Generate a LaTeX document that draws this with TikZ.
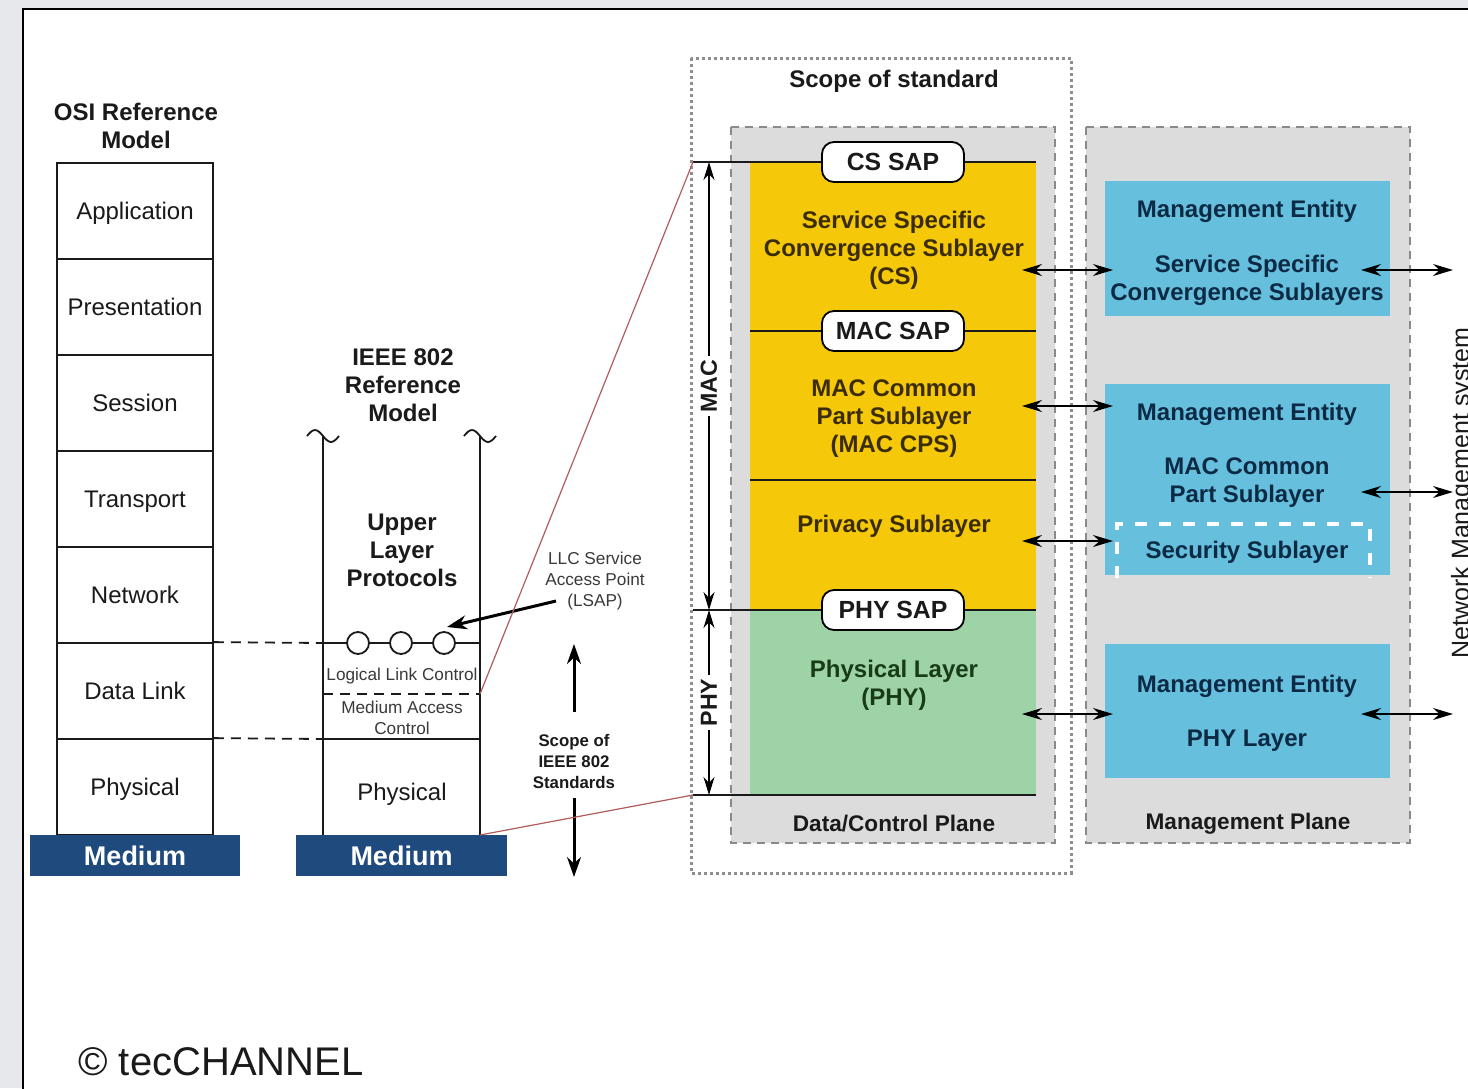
\documentclass[tikz,border=0pt]{standalone}
\usepackage{fontspec}
\setmainfont{Liberation Sans}
\usepackage{xcolor}
\usepackage{tikz}
\usetikzlibrary{arrows.meta}
\definecolor{page}{HTML}{E6E8EB}
\definecolor{txt}{HTML}{1A1A1A}
\definecolor{muted}{HTML}{3A3A3A}
\definecolor{mediumblue}{HTML}{1F4A7E}
\definecolor{macyellow}{HTML}{F5C90A}
\definecolor{phygreen}{HTML}{9ED3A6}
\definecolor{planebg}{HTML}{DCDCDC}
\definecolor{planeline}{HTML}{8A8A8A}
\definecolor{mgmtblue}{HTML}{65BFDD}
\definecolor{mgmttext}{HTML}{0D2A44}
\definecolor{subtext}{HTML}{3A2C05}
\definecolor{phytext}{HTML}{173C17}
\definecolor{zoomred}{HTML}{B25B5B}
\definecolor{scopedots}{HTML}{8E8E8E}
\tikzset{
  rule/.style={draw=txt, line width=0.9pt},
  dashrule/.style={rule, dash pattern=on 5pt off 3.5pt},
  zoomline/.style={draw=zoomred, line width=0.6pt},
  bigarrow/.style={draw=black, line width=1.5pt, -{Stealth[length=10pt,width=7pt]}},
  link/.style={draw=black, line width=0.8pt, {Stealth[length=10pt,width=6pt]}-{Stealth[length=10pt,width=6pt]}},
  dimline/.style={draw=black, line width=0.9pt, {Stealth[length=9pt,width=5.5pt]}-{Stealth[length=9pt,width=5.5pt]}},
  layer/.style={draw=txt, line width=0.9pt, minimum width=78pt, minimum height=48pt,
    text depth=0pt, font=\fontsize{12}{14}\selectfont, text=txt},
  plain/.style={font=\fontsize{12}{14}\selectfont, text=txt, yshift=-1pt},
  medium/.style={fill=mediumblue, text=white, minimum height=20.5pt, inner sep=0pt,
    font=\fontsize{13.5}{16}\selectfont\bfseries},
  heading/.style={font=\fontsize{12}{14}\selectfont\bfseries, align=center, text=txt, yshift=-1pt},
  note/.style={font=\fontsize{8.6}{10.5}\selectfont, align=center, text=muted, inner sep=1pt, yshift=-0.8pt},
  boldnote/.style={font=\fontsize{8.4}{10.5}\selectfont\bfseries, align=center, text=txt, yshift=-0.8pt},
  sapdot/.style={circle, draw=txt, fill=white, line width=0.9pt, minimum size=11pt, inner sep=0pt},
  scopebox/.style={draw=scopedots, line width=1.5pt, dash pattern=on 1.5pt off 1.5pt},
  plane/.style={draw=planeline, fill=planebg, line width=0.6pt, dash pattern=on 4pt off 3pt},
  planelabel/.style={font=\fontsize{11.3}{13}\selectfont\bfseries, text=txt, yshift=-1pt},
  sap/.style={draw=black, fill=white, line width=0.9pt, rounded corners=6pt,
    minimum width=71pt, minimum height=20pt, inner sep=0pt,
    font=\fontsize{12.4}{14}\selectfont\bfseries, text=txt},
  sublayer/.style={font=\fontsize{12}{14}\selectfont\bfseries, align=center, text=subtext, yshift=-1pt},
  dimlabel/.style={fill=white, rotate=90, inner sep=2pt,
    font=\fontsize{11.6}{13}\selectfont\bfseries, text=txt},
  mgmt/.style={fill=mgmtblue, minimum width=142.5pt, inner sep=0pt},
  mgmtlabel/.style={font=\fontsize{12}{14}\selectfont\bfseries, align=center, text=mgmttext, yshift=-1pt},
  secbox/.style={draw=white, line width=2pt, dash pattern=on 6pt off 6pt}
}

\begin{document}
\begin{tikzpicture}[x=0.5pt, y=-0.5pt]
  \useasboundingbox (0,0) rectangle (1468,1088);
  \clip (0,0) rectangle (1468,1088);
  \fill[page] (0,0) rectangle (1468,1088);
  \draw[fill=white, line width=1.2pt] (23,9) rectangle (1520,1130);

  % OSI stack
  \node[heading] (osititle) at (136,124) {OSI Reference\\Model};
  \node[layer] (app) at (135,211) {Application};
  \node[layer] (pres) at (135,307) {Presentation};
  \node[layer] (sess) at (135,403) {Session};
  \node[layer] (trans) at (135,499) {Transport};
  \node[layer] (net) at (135,595) {Network};
  \node[layer] (dlink) at (135,691) {Data Link};
  \node[layer] (phys) at (135,787) {Physical};
  \node[medium, minimum width=105pt] (osimed) at (135,855.5) {Medium};

  % IEEE 802 stack
  \node[heading] (ieeetitle) at (403,383) {IEEE 802\\Reference\\Model};
  \coordinate (ieeeTL) at (323,436);
  \coordinate (ieeeTR) at (480,436);
  \coordinate (ieeeBL) at (323,835);
  \coordinate (ieeeBR) at (480,835);
  \draw[rule] (ieeeTL) -- (ieeeBL);
  \draw[rule] (ieeeTR) -- (ieeeBR);
  \draw[rule] ([xshift=-8pt]ieeeTL) sin ++(8,-6) cos ++(8,6) sin ++(8,6) cos ++(8,-6);
  \draw[rule] ([xshift=-8pt]ieeeTR) sin ++(8,-6) cos ++(8,6) sin ++(8,6) cos ++(8,-6);
  \node[heading] (ulp) at (402,548) {Upper\\Layer\\Protocols};

  \coordinate (llcL) at (323,643);
  \coordinate (llcR) at (480,643);
  \coordinate (macL) at (323,694);
  \coordinate (macR) at (480,694);
  \coordinate (phyL) at (323,739);
  \coordinate (phyR) at (480,739);
  \draw[rule] (llcL) -- (llcR);
  \node[sapdot] (lsap1) at (358,643) {};
  \node[sapdot] (lsap2) at (401,643) {};
  \node[sapdot] (lsap3) at (444,643) {};
  \node[note] (llc) at (402,674) {Logical Link Control};
  \draw[dashrule] (macL) -- (macR);
  \node[note] (macnote) at (402,716) {Medium Access\\Control};
  \draw[rule] (phyL) -- (phyR);
  \node[plain] (ieeephys) at (402,792) {Physical};
  \node[medium, minimum width=105.5pt] (ieeemed) at (401.5,855.5) {Medium};

  \draw[dashrule] (dlink.north east) -- (llcL);
  \draw[dashrule] (phys.north east) -- (phyL);

  % service access point and scope arrows
  \node[note] (lsapnote) at (595,579) {LLC Service\\Access Point\\(LSAP)};
  \coordinate (lsapfrom) at (556,601);
  \coordinate (lsaptip) at (447,627);
  \draw[bigarrow] (lsapfrom) -- (lsaptip);

  \node[boldnote] (scopenote) at (574,760) {Scope of\\IEEE 802\\Standards};
  \coordinate (scopeA) at (574,712);
  \coordinate (scopeUp) at (574,644);
  \coordinate (scopeB) at (574,798);
  \coordinate (scopeDn) at (574,877);
  \draw[bigarrow] (scopeA) -- (scopeUp);
  \draw[bigarrow] (scopeB) -- (scopeDn);

  % scope of standard
  \draw[scopebox] (691,58) rectangle (1071,873);
  \node[heading] (scopetitle) at (894,79) {Scope of standard};
  \draw[plane] (731,127) rectangle (1055,843);
  \draw[plane] (1086,127) rectangle (1410,843);
  \node[planelabel] (dcplane) at (894,822) {Data/Control Plane};
  \node[planelabel] (mgmtplane) at (1248,822) {Management Plane};

  \fill[macyellow] (750,162) rectangle (1036,610);
  \fill[phygreen] (750,610) rectangle (1036,795);

  \coordinate (dcTop) at (693,162);
  \coordinate (dcTopR) at (1036,162);
  \coordinate (macSapL) at (750,331);
  \coordinate (macSapR) at (1036,331);
  \coordinate (privL) at (750,480);
  \coordinate (privR) at (1036,480);
  \coordinate (phySapL) at (693,610);
  \coordinate (phySapR) at (1036,610);
  \coordinate (dcBot) at (693,795);
  \coordinate (dcBotR) at (1036,795);
  \draw[rule] (dcTop) -- (dcTopR);
  \draw[rule] (macSapL) -- (macSapR);
  \draw[rule] (privL) -- (privR);
  \draw[rule] (phySapL) -- (phySapR);
  \draw[rule] (dcBot) -- (dcBotR);

  \draw[zoomline] (macR) -- (dcTop);
  \draw[zoomline] (ieeeBR) -- (dcBot);

  \node[sap] (cssap) at (893,162) {CS SAP};
  \node[sap] (macsap) at (893,331) {MAC SAP};
  \node[sap] (physap) at (893,610) {PHY SAP};

  \node[sublayer] (cs) at (894,248) {Service Specific\\Convergence Sublayer\\(CS)};
  \node[sublayer] (cps) at (894,417) {MAC Common\\Part Sublayer\\(MAC CPS)};
  \node[sublayer] (priv) at (894,524) {Privacy Sublayer};
  \node[sublayer, text=phytext] (phy) at (894,683) {Physical Layer\\(PHY)};

  \coordinate (macTop) at (709,162);
  \coordinate (macBot) at (709,610);
  \coordinate (phyBot) at (709,795);
  \draw[dimline] (macTop) -- node[dimlabel] {MAC} (macBot);
  \draw[dimline] (macBot) -- node[dimlabel] {PHY} (phyBot);

  % management plane
  \node[mgmt, minimum height=67.5pt] (mecs) at (1247.5,248.5) {};
  \node[mgmt, minimum height=95.5pt] (mecps) at (1247.5,479.5) {};
  \node[mgmt, minimum height=67pt] (mephy) at (1247.5,711) {};
  \node[mgmtlabel] (mecs1) at (1247,209) {Management Entity};
  \node[mgmtlabel] (mecs2) at (1247,278) {Service Specific\\Convergence Sublayers};
  \node[mgmtlabel] (mecps1) at (1247,412) {Management Entity};
  \node[mgmtlabel] (mecps2) at (1247,481) {MAC Common\\Part Sublayer};
  \draw[secbox] (1117,578) -- (1117,524) -- (1370,524) -- (1370,578);
  \node[mgmtlabel] (sec) at (1247,550) {Security Sublayer};
  \node[mgmtlabel] (mephy1) at (1247,684) {Management Entity};
  \node[mgmtlabel] (mephy2) at (1247,739) {PHY Layer};

  \coordinate (csOut) at (1022,270);
  \coordinate (csIn) at (1113,270);
  \coordinate (cpsOut) at (1022,406);
  \coordinate (cpsIn) at (1113,406);
  \coordinate (privOut) at (1022,541);
  \coordinate (privIn) at (1113,541);
  \coordinate (phyOut) at (1022,714);
  \coordinate (phyIn) at (1113,714);
  \draw[link] (csOut) -- (csIn);
  \draw[link] (cpsOut) -- (cpsIn);
  \draw[link] (privOut) -- (privIn);
  \draw[link] (phyOut) -- (phyIn);

  \coordinate (nmsA) at (1361,270);
  \coordinate (nmsAend) at (1453,270);
  \coordinate (nmsB) at (1361,492);
  \coordinate (nmsBend) at (1453,492);
  \coordinate (nmsC) at (1361,714);
  \coordinate (nmsCend) at (1453,714);
  \draw[link] (nmsA) -- (nmsAend);
  \draw[link] (nmsB) -- (nmsBend);
  \draw[link] (nmsC) -- (nmsCend);
  \node[plain, rotate=90, anchor=base, yshift=1pt, font=\fontsize{12.5}{14}\selectfont] (nms) at (1471,491) {Network Management system};

  \node[anchor=base west, inner sep=0pt, font=\fontsize{20}{24}\selectfont, text=txt] (credit) at (78,1075) {© tecCHANNEL};
\end{tikzpicture}
\end{document}
